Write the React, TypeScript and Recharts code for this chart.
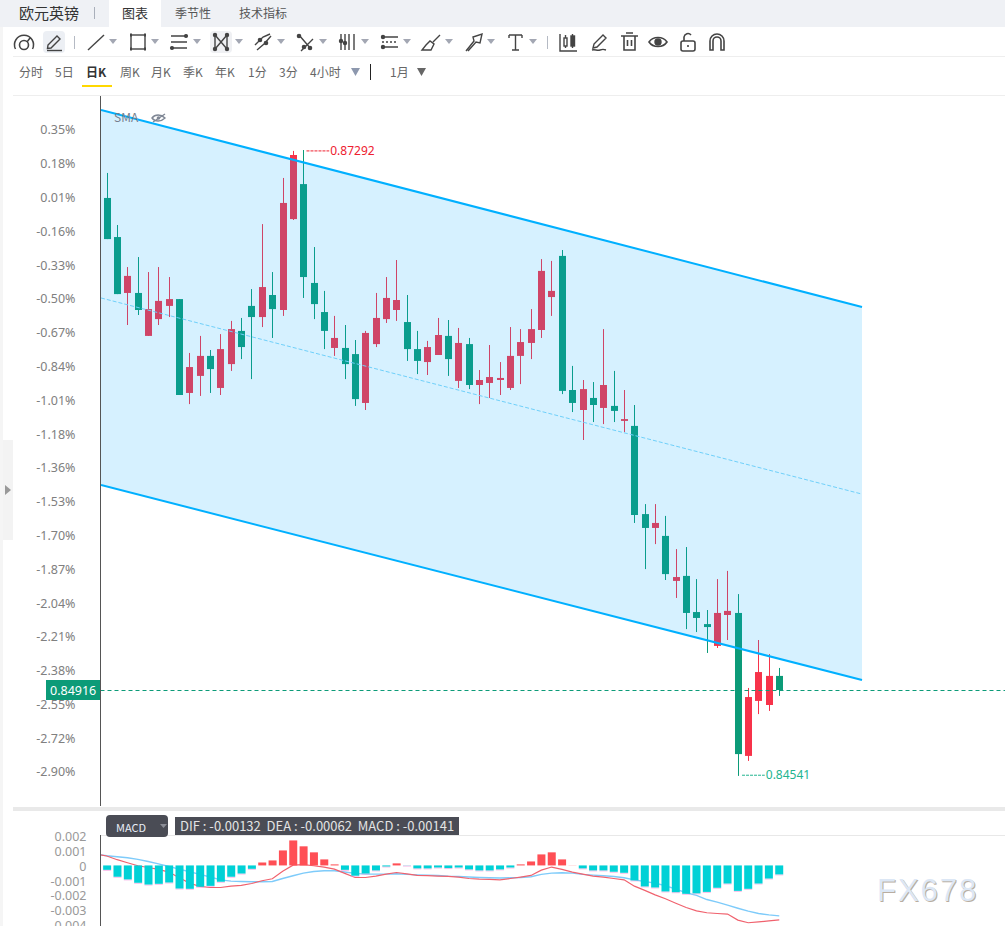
import { Bar, Area, ComposedChart, Line, ReferenceLine, XAxis, YAxis } from 'recharts';

const highs = [0.87191,0.86962,0.86777,0.86821,0.86755,0.86777,0.86733,0.86636,0.86399,0.86474,0.86412,0.86482,0.86540,0.86553,0.86680,0.86966,0.86755,0.87169,0.87288,0.87292,0.86865,0.86672,0.86562,0.86522,0.86456,0.86496,0.86663,0.86733,0.86808,0.86654,0.86496,0.86452,0.86553,0.86544,0.86509,0.86465,0.86324,0.86434,0.86359,0.86513,0.86504,0.86592,0.86812,0.86804,0.86852,0.86342,0.86280,0.86271,0.86504,0.86320,0.86236,0.86170,0.85734,0.85734,0.85682,0.85536,0.85545,0.85404,0.85268,0.85404,0.85440,0.85338,0.84925,0.85136,0.85074,0.85013];
const lows = [0.86900,0.86658,0.86522,0.86566,0.86474,0.86522,0.86557,0.86214,0.86174,0.86210,0.86223,0.86214,0.86320,0.86372,0.86284,0.86513,0.86465,0.86562,0.86984,0.86641,0.86548,0.86416,0.86386,0.86284,0.86166,0.86148,0.86425,0.86531,0.86540,0.86364,0.86306,0.86302,0.86390,0.86298,0.86245,0.86240,0.86174,0.86201,0.86214,0.86236,0.86262,0.86372,0.86465,0.86562,0.86218,0.86139,0.86016,0.86095,0.86086,0.86095,0.86051,0.85651,0.85448,0.85558,0.85400,0.85321,0.85184,0.85171,0.85079,0.85101,0.85136,0.84538,0.84604,0.84810,0.84824,0.84890];
const opens = [0.87081,0.86909,0.86663,0.86663,0.86474,0.86548,0.86606,0.86636,0.86223,0.86298,0.86386,0.86245,0.86350,0.86496,0.86606,0.86557,0.86654,0.86588,0.86988,0.87142,0.86707,0.86579,0.86421,0.86421,0.86394,0.86179,0.86438,0.86548,0.86588,0.86535,0.86416,0.86359,0.86390,0.86474,0.86276,0.86438,0.86258,0.86267,0.86280,0.86245,0.86386,0.86443,0.86500,0.86645,0.86826,0.86236,0.86148,0.86201,0.86157,0.86166,0.86100,0.86078,0.85690,0.85629,0.85594,0.85396,0.85418,0.85259,0.85206,0.85110,0.85246,0.85255,0.84626,0.84868,0.84850,0.84978];
const closes = [0.86900,0.86658,0.86738,0.86588,0.86592,0.86628,0.86636,0.86214,0.86337,0.86386,0.86328,0.86416,0.86504,0.86425,0.86557,0.86689,0.86592,0.87059,0.87270,0.86733,0.86614,0.86496,0.86465,0.86350,0.86196,0.86487,0.86553,0.86641,0.86632,0.86416,0.86364,0.86425,0.86478,0.86372,0.86443,0.86258,0.86280,0.86293,0.86289,0.86386,0.86447,0.86504,0.86760,0.86672,0.86232,0.86179,0.86240,0.86170,0.86258,0.86144,0.86108,0.85686,0.85629,0.85651,0.85426,0.85413,0.85255,0.85233,0.85193,0.85255,0.85264,0.84634,0.84885,0.84995,0.84978,0.84916];

const priceTicks = [0.873844,0.872357,0.87087,0.86938,0.867895,0.866408,0.864925,0.863438,0.86195,0.860464,0.858976,0.85749,0.856002,0.854515,0.853028,0.85154,0.850053,0.848566,0.847083,0.845596];
const priceTickLabels = ['0.35%','0.18%','0.01%','-0.16%','-0.33%','-0.50%','-0.67%','-0.84%','-1.01%','-1.18%','-1.36%','-1.53%','-1.70%','-1.87%','-2.04%','-2.21%','-2.38%','-2.55%','-2.72%','-2.90%'];

const channelX = [-0.61, 72.99];
const channelUpper = [0.87468, 0.86601];
const channelMid = [0.86641, 0.85778];
const channelLower = [0.85818, 0.8496];

const macdBars = [-0.0003,-0.00077,-0.00095,-0.00118,-0.0013,-0.00125,-0.00116,-0.00157,-0.00159,-0.00145,-0.00139,-0.00111,-0.00077,-0.00055,-0.00023,0.0002,0.00034,0.00102,0.0017,0.0013,0.00089,0.00041,0.00007,-0.0003,-0.0007,-0.00055,-0.00034,-0.00007,0.00014,-0.00001,-0.0002,-0.0002,-0.00014,-0.00018,-0.00014,-0.00027,-0.00034,-0.00034,-0.00027,-0.00014,0.00007,0.00027,0.00075,0.00089,0.00041,0.00001,-0.0002,-0.00034,-0.00034,-0.00043,-0.0005,-0.00102,-0.00143,-0.0015,-0.00177,-0.00182,-0.00193,-0.0019,-0.0018,-0.00152,-0.00123,-0.00173,-0.00159,-0.00123,-0.00089,-0.00061];
const difLine = [0.00064,0.00039,0.00018,-0.00002,-0.00014,-0.00027,-0.00045,-0.00084,-0.0012,-0.00143,-0.0015,-0.0015,-0.00141,-0.00136,-0.00123,-0.00104,-0.00091,-0.00039,0.00002,0.00005,-0.00002,-0.00011,-0.00025,-0.00054,-0.00082,-0.00082,-0.00073,-0.00059,-0.00048,-0.00057,-0.00068,-0.0007,-0.00073,-0.00075,-0.00079,-0.00089,-0.00093,-0.00095,-0.00098,-0.00089,-0.00079,-0.00068,-0.00032,-0.00011,-0.00027,-0.00045,-0.00059,-0.00073,-0.00079,-0.00089,-0.00098,-0.00141,-0.0017,-0.002,-0.00227,-0.00257,-0.00286,-0.00309,-0.00322,-0.00327,-0.00331,-0.00372,-0.0039,-0.00384,-0.00377,-0.0037];
const deaLine = [0.00066,0.00059,0.00052,0.00041,0.00027,0.00011,-0.00007,-0.00025,-0.00043,-0.00061,-0.00079,-0.00098,-0.00107,-0.00109,-0.00111,-0.00111,-0.00109,-0.00089,-0.0007,-0.00052,-0.00041,-0.00036,-0.00036,-0.00045,-0.00054,-0.00059,-0.00059,-0.00059,-0.00057,-0.00061,-0.00064,-0.00066,-0.00068,-0.00073,-0.00075,-0.00079,-0.00082,-0.00084,-0.00086,-0.00084,-0.00082,-0.00077,-0.00061,-0.00052,-0.0005,-0.00052,-0.00061,-0.00066,-0.0007,-0.00075,-0.00084,-0.00098,-0.00109,-0.0012,-0.00138,-0.00161,-0.00186,-0.00204,-0.00232,-0.0025,-0.0027,-0.00291,-0.00311,-0.00327,-0.00336,-0.00343];
const macdTicks = [0.002, 0.001, 0, -0.001, -0.002, -0.003, -0.004];

const lastPrice = 0.84916;
const highMark = { price: 0.87288, from: 19.3, to: 21.5, label: '0.87292' };
const lowMark = { price: 0.84541, from: 61.4, to: 63.6, label: '0.84541' };

const UP = '#f7334a';
const DOWN = '#0c9b78';
const X_DOMAIN: [number, number] = [-0.61, 86.82];
const PRICE_DOMAIN: [number, number] = [0.844056, 0.875296];
const MACD_DOMAIN: [number, number] = [-0.00412, 0.00207];

const candleRows = closes.map((close, i) => ({
  x: i,
  open: opens[i],
  high: highs[i],
  low: lows[i],
  close,
  range: [lows[i], highs[i]],
}));
const channelRows = channelX.map((x, i) => ({
  x,
  band: [channelLower[i], channelUpper[i]],
  upper: channelUpper[i],
  mid: channelMid[i],
  lower: channelLower[i],
}));
const macdRows = macdBars.map((macd, i) => ({ x: i, macd }));
const macdLineRows = [
  { x: -0.61, dif: 0.00072, dea: 0.00072 },
  ...difLine.map((dif, i) => ({ x: i, dif, dea: deaLine[i] })),
];

function Candle(props: any) {
  const { x, y, width, height, payload } = props;
  const perUnit = height / (payload.high - payload.low);
  const top = y + (payload.high - Math.max(payload.open, payload.close)) * perUnit;
  const bodyH = Math.max(Math.abs(payload.open - payload.close) * perUnit, 1);
  const left = Math.round(x);
  const color = payload.close >= payload.open ? UP : DOWN;
  return (
    <g>
      <rect x={left + 3} y={y} width={1} height={height} fill={color} />
      <rect x={left} y={top} width={width} height={bodyH} fill={color} />
    </g>
  );
}

function MacdBar(props: any) {
  const { x, y, width, height, payload } = props;
  const top = Math.min(y, y + height);
  const h = Math.abs(height);
  if (payload.macd >= 0) return <rect x={x} y={top} width={width} height={h} fill="#ff4f55" />;
  return (
    <g>
      <rect x={x} y={top + h} width={width} height={1} fill="#f59ee0" opacity={0.7} />
      <rect x={x} y={top} width={width} height={h} fill="#00d1d6" />
    </g>
  );
}

function PriceTag(props: any) {
  const { viewBox } = props;
  const mid = Math.round(viewBox.y);
  return (
    <g>
      <rect x={46} y={mid - 10} width={55} height={20} fill={DOWN} />
      <text x={50} y={mid + 4.5} fill="#fff" fontSize={12.5} fontFamily="Noto Sans">
        {lastPrice.toFixed(5)}
      </text>
    </g>
  );
}

function Txt({ x, y, children, size = 12, color = '#666', weight = 400 }: any) {
  return (
    <div
      style={{
        position: 'absolute',
        left: x,
        top: y - 10,
        height: 20,
        lineHeight: '20px',
        fontSize: size,
        color,
        fontWeight: weight,
        whiteSpace: 'pre',
        fontFamily: '"Noto Sans CJK SC", "Noto Sans", sans-serif',
      }}
    >
      {children}
    </div>
  );
}

function Box({ x, y, w, h, bg, r = 0 }: any) {
  return <div style={{ position: 'absolute', left: x, top: y, width: w, height: h, background: bg, borderRadius: r }} />;
}

function Icon({ x, children }: any) {
  return (
    <svg
      width={24}
      height={24}
      viewBox="0 0 24 24"
      fill="none"
      stroke="#444"
      strokeWidth={1.4}
      style={{ position: 'absolute', left: x, top: 30 }}
    >
      {children}
    </svg>
  );
}

const dropArrows = [109, 151, 193, 235, 277, 319, 361, 403, 445, 487, 529];

function Toolbar() {
  return (
    <>
      <Icon x={12}>
        <circle cx="12" cy="15" r="4.5" strokeWidth={1.6} />
        <path d="M3.500 19a9.500 9.500 0 1 1 17 0M15 12l3-4" strokeWidth={1.5} />
      </Icon>
      <Box x={43} y={31} w={22} h={22} bg="#eceff4" r={4} />
      <Icon x={42}>
        <path d="M6 15 15 6l3 3-9 9-3.500.5z" />
        <path d="M5 20.500h15" />
      </Icon>
      <Box x={74} y={36} w={1} h={13} bg="#b5bac4" />
      <Icon x={84}>
        <path d="M4 20 20 5" />
      </Icon>
      <Icon x={126}>
        <rect x="5" y="5" width="14" height="14" />
        <path d="M4 5h2M18 5h2M4 19h2M18 19h2" strokeWidth={3} />
      </Icon>
      <Icon x={167}>
        <path d="M4 6h16M4 12h16M4 18h16" />
        <circle cx="19" cy="6" r="1.4" fill="#444" />
        <circle cx="5" cy="18" r="1.4" fill="#444" />
      </Icon>
      <Box x={210} y={31} w={22} h={22} bg="#eff0f3" r={4} />
      <Icon x={209}>
        <path d="M6 5v14L18 5v14" />
        <path d="M6 5 18 19" />
        <circle cx="6" cy="5" r="1.5" fill="#444" />
        <circle cx="18" cy="5" r="1.5" fill="#444" />
        <circle cx="6" cy="19" r="1.5" fill="#444" />
        <circle cx="18" cy="19" r="1.5" fill="#444" />
      </Icon>
      <Icon x={251}>
        <path d="M4 15 12 7l7-3M6 20l7-6 7-8" />
        <circle cx="9" cy="10" r="1.6" fill="#444" />
        <circle cx="15" cy="13" r="1.6" fill="#444" />
      </Icon>
      <Icon x={293}>
        <path d="M6 5 18 19M20 9l-12 12" />
        <circle cx="6" cy="6" r="1.6" fill="#444" />
        <circle cx="11" cy="17" r="1.6" fill="#444" />
        <circle cx="17" cy="18" r="1.6" fill="#444" />
      </Icon>
      <Icon x={335}>
        <path d="M6 4v16M10 4v16M14 4v16M19 4v16" />
        <circle cx="6" cy="11" r="1.5" fill="#444" />
        <circle cx="10" cy="13" r="1.5" fill="#444" />
      </Icon>
      <Icon x={378}>
        <path d="M4 7h16M4 17h16" />
        <path d="M4 12h16" strokeDasharray="2 2" />
        <circle cx="5" cy="7" r="1.5" fill="#444" />
        <circle cx="5" cy="17" r="1.5" fill="#444" />
      </Icon>
      <Icon x={419}>
        <path d="M3 20h9l3-6-4-3-4 4zM14 12l7-7" />
      </Icon>
      <Icon x={462}>
        <path d="M4 21 12 11l-1-4 9-3-2 9-4-1-8 9" />
      </Icon>
      <Icon x={503}>
        <path d="M6 5h13M12.500 5v15M9 20h7M6 5v3M19 5v3" />
      </Icon>
      <Box x={547} y={36} w={1} h={13} bg="#b5bac4" />
      <Icon x={556}>
        <path d="M4 4v17h17" />
        <rect x="8" y="8" width="3" height="8" />
        <rect x="15" y="6" width="3.500" height="10" fill="#444" />
        <path d="M9.500 5v3M9.500 16v2M16.500 4v2M16.500 16v2" />
      </Icon>
      <Icon x={587}>
        <path d="M7 14 16 5l3 3-9 9-4 1zM5 20c3-1 5 1 8 0s3-1 6 0" />
      </Icon>
      <Icon x={617}>
        <path d="M4 6h17M9 3h7M7 6v14h11V6M10.500 10v6M14.500 10v6" strokeWidth={1.6} />
      </Icon>
      <Icon x={646}>
        <path d="M3 12c4-6 14-6 18 0-4 6-14 6-18 0z" strokeWidth={1.6} />
        <circle cx="12" cy="12" r="3" fill="#444" />
      </Icon>
      <Icon x={676}>
        <rect x="5" y="11" width="14" height="10" rx="2" strokeWidth={1.6} />
        <path d="M8 11V7a4 4 0 0 1 7-2M12 15v2" strokeWidth={1.6} />
      </Icon>
      <Icon x={705}>
        <path d="M5 20V11a7 7 0 0 1 14 0v9h-3v-9a4 4 0 0 0-8 0v9z" strokeWidth={1.6} />
      </Icon>
      {dropArrows.map((x) => (
        <svg key={x} width={9} height={6} style={{ position: 'absolute', left: x, top: 39 }}>
          <path d="M0 0h8L4 5z" fill="#a3a7b3" />
        </svg>
      ))}
    </>
  );
}

const periods = [
  { label: '分时', x: 19 },
  { label: '5日', x: 55 },
  { label: '周K', x: 120 },
  { label: '月K', x: 151 },
  { label: '季K', x: 183 },
  { label: '年K', x: 215 },
  { label: '1分', x: 248 },
  { label: '3分', x: 279 },
  { label: '4小时', x: 310 },
];

function Header() {
  return (
    <>
      <Box x={0} y={0} w={1005} h={27} bg="#eff1f5" />
      <Box x={109} y={0} w={52} h={27} bg="#fff" />
      <Box x={0} y={27} w={3} h={899} bg="#f5f5f5" />
      <Box x={3} y={440} w={10} h={100} bg="#f3f3f3" />
      <svg width={7} height={10} style={{ position: 'absolute', left: 5, top: 485 }}>
        <path d="M0 0l6 5-6 5z" fill="#999" />
      </svg>
      <Txt x={19} y={13} size={15} color="#333">欧元英镑</Txt>
      <Box x={94} y={7} w={1} h={12} bg="#a9afba" />
      <Txt x={122} y={13} size={13} color="#333">图表</Txt>
      <Txt x={175} y={13} color="#555">季节性</Txt>
      <Txt x={239} y={13} color="#555">技术指标</Txt>
      <Toolbar />
      <Box x={13} y={56} w={992} h={1} bg="#eeeeee" />
      {periods.map((p) => (
        <Txt key={p.label} x={p.x} y={72} color="#666">{p.label}</Txt>
      ))}
      <Txt x={86} y={72} color="#333" weight={700}>日K</Txt>
      <Box x={82} y={85} w={30} h={2} bg="#ffd800" />
      <svg width={10} height={9} style={{ position: 'absolute', left: 351, top: 68 }}>
        <path d="M0 0h9L4.500 8z" fill="#8d98ae" />
      </svg>
      <Box x={370} y={64} w={1} h={16} bg="#222" />
      <Txt x={390} y={72} color="#666">1月</Txt>
      <svg width={10} height={9} style={{ position: 'absolute', left: 417, top: 68 }}>
        <path d="M0 0h9L4.500 8z" fill="#666" />
      </svg>
      <Box x={13} y={95} w={992} h={1} bg="#eeeeee" />
    </>
  );
}

function PriceChart() {
  return (
    <div style={{ position: 'absolute', left: 0, top: 96 }}>
      <ComposedChart width={1005} height={710} data={candleRows} margin={{ top: 0, right: 0, bottom: 0, left: 0 }}>
        <XAxis dataKey="x" type="number" domain={X_DOMAIN} allowDataOverflow hide />
        <YAxis
          type="number"
          width={100.5}
          domain={PRICE_DOMAIN}
          allowDataOverflow
          ticks={priceTicks}
          interval={0}
          tickLine={false}
          tickMargin={19}
          axisLine={{ stroke: '#555' }}
          tick={{ fill: '#808080', fontSize: 12.5, fontFamily: 'Noto Sans', dy: 1 }}
          tickFormatter={(v: number) => priceTickLabels[priceTicks.indexOf(v)]}
        />
        <ReferenceLine
          y={lastPrice - 0.000022}
          stroke={DOWN}
          strokeDasharray="4 3"
          ifOverflow="visible"
          label={<PriceTag />}
        />
        <Bar dataKey="range" barSize={7} shape={<Candle />} isAnimationActive={false} />
        <ReferenceLine
          segment={[{ x: highMark.from, y: highMark.price }, { x: highMark.to, y: highMark.price }]}
          stroke="#ee2030"
          strokeDasharray="3 1"
          label={{ value: highMark.label, position: 'right', offset: 1, fill: '#ee2030', fontSize: 12, fontFamily: 'Noto Sans' }}
        />
        <ReferenceLine
          segment={[{ x: lowMark.from, y: lowMark.price }, { x: lowMark.to, y: lowMark.price }]}
          stroke="#22b48f"
          strokeDasharray="3 1"
          label={{ value: lowMark.label, position: 'right', offset: 1, fill: '#22b48f', fontSize: 12, fontFamily: 'Noto Sans' }}
        />
      </ComposedChart>
    </div>
  );
}

// the channel tints the candles under it, so it lives in its own chart on top
function ChannelChart() {
  return (
    <div style={{ position: 'absolute', left: 0, top: 96, pointerEvents: 'none' }}>
      <ComposedChart width={1005} height={710} data={channelRows} margin={{ top: 0, right: 0, bottom: 0, left: 101 }}>
        <XAxis dataKey="x" type="number" domain={X_DOMAIN} allowDataOverflow hide />
        <YAxis type="number" domain={PRICE_DOMAIN} allowDataOverflow hide />
        <Area
          dataKey="band"
          type="linear"
          fill="#00aaff"
          fillOpacity={0.16}
          stroke="none"
          dot={false}
          activeDot={false}
          isAnimationActive={false}
        />
        <Line dataKey="upper" type="linear" stroke="#00b0ff" strokeWidth={2} dot={false} isAnimationActive={false} />
        <Line dataKey="lower" type="linear" stroke="#00b0ff" strokeWidth={2} dot={false} isAnimationActive={false} />
        <Line dataKey="mid" type="linear" stroke="#6fd0fa" strokeWidth={1} strokeDasharray="4 2" dot={false} isAnimationActive={false} />
      </ComposedChart>
    </div>
  );
}

function MacdChart() {
  return (
    <>
      <div style={{ position: 'absolute', left: 0, top: 815 }}>
        <ComposedChart width={1005} height={111} data={macdLineRows} margin={{ top: 20, right: 0, bottom: 0, left: 0 }}>
          <XAxis dataKey="x" type="number" domain={X_DOMAIN} allowDataOverflow hide />
          <YAxis
            type="number"
            width={100.5}
            domain={MACD_DOMAIN}
            allowDataOverflow
            ticks={macdTicks}
            interval={0}
            tickLine={false}
            tickMargin={8}
            axisLine={{ stroke: '#555' }}
            tick={{ fill: '#999', fontSize: 12.5, fontFamily: 'Noto Sans', dy: 1 }}
            tickFormatter={(v: number) => String(v)}
          />
          <Line dataKey="dea" type="linear" stroke="#7ecbfa" strokeWidth={1.4} dot={false} isAnimationActive={false} />
          <Line dataKey="dif" type="linear" stroke="#f0626e" strokeWidth={1.2} dot={false} isAnimationActive={false} />
        </ComposedChart>
      </div>
      <div style={{ position: 'absolute', left: 0, top: 815, pointerEvents: 'none' }}>
        <ComposedChart width={1005} height={111} data={macdRows} margin={{ top: 20, right: 0, bottom: 0, left: 101 }}>
          <XAxis dataKey="x" type="number" domain={X_DOMAIN} allowDataOverflow hide />
          <YAxis type="number" domain={MACD_DOMAIN} allowDataOverflow hide />
          <Bar dataKey="macd" barSize={8} shape={<MacdBar />} isAnimationActive={false} />
        </ComposedChart>
      </div>
    </>
  );
}

export default function App() {
  return (
    <div style={{ position: 'relative', width: 1005, height: 926, overflow: 'hidden', background: '#fff' }}>
      <style>{'body{margin:0}'}</style>
      <Header />
      <PriceChart />
      <ChannelChart />
      <Txt x={114} y={117} color="#767e8c">SMA</Txt>
      <svg width={16} height={12} style={{ position: 'absolute', left: 151, top: 112 }}>
        <path d="M1 6c3-4 9-4 13 0-4 4-10 4-13 0z" fill="none" stroke="#7f8795" strokeWidth={1.4} />
        <path d="M2 10 14 2" stroke="#7f8795" strokeWidth={1.4} />
        <circle cx="7.500" cy="6" r="1.800" fill="#7f8795" />
      </svg>
      <Box x={13} y={807} w={992} h={4} bg="#e9e9e9" />
      <MacdChart />
      <Box x={101} y={835} w={904} h={1} bg="#e8e8e8" />
      <Box x={106} y={815} w={62} h={22} bg="#4a4c55" r={4} />
      <Txt x={116} y={827} size={11} color="#e8eef8">MACD</Txt>
      <svg width={8} height={5} style={{ position: 'absolute', left: 160, top: 824 }}>
        <path d="M0 0h7L3.500 4z" fill="#8b8d96" />
      </svg>
      <Box x={175} y={817} w={284} h={18} bg="#4a4c55" />
      <Txt x={180} y={826} size={13} color="#e4e4e4">{'DIF : -0.00132  DEA : -0.00062  MACD : -0.00141'}</Txt>
      <div
        style={{
          position: 'absolute',
          left: 877,
          top: 872,
          fontFamily: 'Liberation Sans',
          fontSize: 31,
          lineHeight: '38px',
          letterSpacing: 2,
          color: '#dce7f5',
          textShadow: '1px 1px 0 #b9ada0',
        }}
      >
        FX678
      </div>
    </div>
  );
}
